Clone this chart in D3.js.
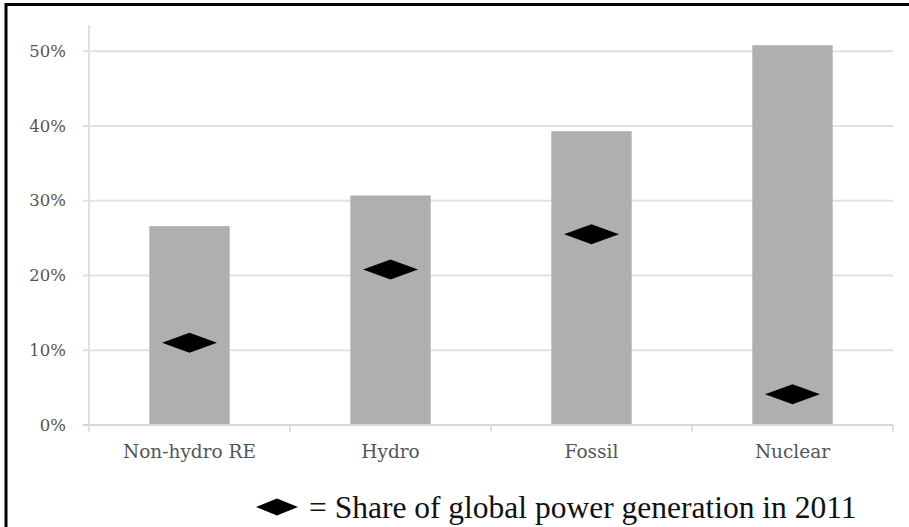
<!DOCTYPE html>
<html>
<head>
<meta charset="utf-8">
<script src="https://cdn.jsdelivr.net/npm/d3@7"></script>
<style>
  html, body { margin: 0; padding: 0; background: #fff; }
  svg { display: block; }
</style>
</head>
<body>
<svg id="chart" width="909" height="527"></svg>
<script>
// Power sources and their values
const categories = ["Non-hydro RE", "Hydro", "Fossil", "Nuclear"];
const barValues = [26.6, 30.7, 39.3, 50.8];      // bar height, %
const shareValues = [11.0, 20.8, 25.5, 4.1];     // share of global power generation in 2011, %
const yTicks = [0, 10, 20, 30, 40, 50];
const legendText = "= Share of global power generation in 2011";

const svg = d3.select("#chart");
const W = 909, H = 527;

const plot = { left: 89, right: 893, top: 25, bottom: 425 };

const x = d3.scaleBand()
  .domain(categories)
  .range([plot.left, plot.right])
  .paddingInner(0.6)
  .paddingOuter(0.3);

const y = d3.scaleLinear()
  .domain([0, 53.5])
  .range([plot.bottom, plot.top]);

const axisFont = "'DejaVu Serif', serif";

// frame (left and top edges)
svg.append("path")
  .attr("d", `M6,${H} L6,4.5 L${W},4.5`)
  .attr("fill", "none")
  .attr("stroke", "#000")
  .attr("stroke-width", 3);

// horizontal gridlines
svg.append("g")
  .selectAll("line")
  .data(yTicks.filter(d => d > 0))
  .join("line")
  .attr("x1", plot.left - 6)
  .attr("x2", plot.right)
  .attr("y1", d => y(d))
  .attr("y2", d => y(d))
  .attr("stroke", "#e2e2e2")
  .attr("stroke-width", 2);

// vertical axis line
svg.append("line")
  .attr("x1", plot.left).attr("x2", plot.left)
  .attr("y1", plot.top).attr("y2", plot.bottom)
  .attr("stroke", "#e0e0e0")
  .attr("stroke-width", 2);

// y tick labels
const yAxis = d3.axisLeft(y)
  .tickValues(yTicks)
  .tickFormat(d => d + "%")
  .tickSize(0)
  .tickPadding(23);
const gy = svg.append("g")
  .attr("transform", `translate(${plot.left},0)`)
  .call(yAxis);
gy.select(".domain").remove();
gy.selectAll("text")
  .attr("font-family", axisFont)
  .attr("font-size", 16.5)
  .attr("fill", "#555");

// bars
svg.append("g")
  .selectAll("rect")
  .data(categories)
  .join("rect")
  .attr("x", d => x(d))
  .attr("width", x.bandwidth())
  .attr("y", (d, i) => y(barValues[i]))
  .attr("height", (d, i) => y(0) - y(barValues[i]))
  .attr("fill", "#afafaf");

// x axis line with ticks at the category boundaries
const edges = d3.range(categories.length + 1).map(i => plot.left + i * x.step());
svg.append("line")
  .attr("x1", plot.left - 6).attr("x2", plot.right)
  .attr("y1", y(0)).attr("y2", y(0))
  .attr("stroke", "#d6d6d6")
  .attr("stroke-width", 2);
svg.append("g")
  .selectAll("line")
  .data(edges)
  .join("line")
  .attr("x1", d => d).attr("x2", d => d)
  .attr("y1", y(0)).attr("y2", y(0) + 7)
  .attr("stroke", "#d6d6d6")
  .attr("stroke-width", 1.5);

// category labels
const xAxis = d3.axisBottom(x).tickSize(0).tickPadding(20);
const gx = svg.append("g")
  .attr("transform", `translate(0,${y(0)})`)
  .call(xAxis);
gx.select(".domain").remove();
gx.selectAll("text")
  .attr("font-family", axisFont)
  .attr("font-size", 18.5)
  .attr("fill", "#555");

// diamond markers
const diamond = (cx, cy, w, h) =>
  `M${cx - w / 2},${cy} L${cx},${cy - h / 2} L${cx + w / 2},${cy} L${cx},${cy + h / 2} Z`;

svg.append("g")
  .selectAll("path")
  .data(categories)
  .join("path")
  .attr("d", (d, i) => diamond(x(d) + x.bandwidth() / 2, y(shareValues[i]), 55, 20))
  .attr("fill", "#000");

// legend
svg.append("path")
  .attr("d", diamond(277, 507, 42, 17))
  .attr("fill", "#000");
svg.append("text")
  .attr("x", 309)
  .attr("y", 518)
  .attr("font-family", "'Liberation Serif', 'Times New Roman', serif")
  .attr("font-size", 31.5)
  .attr("fill", "#111")
  .text(legendText);
</script>
</body>
</html>
